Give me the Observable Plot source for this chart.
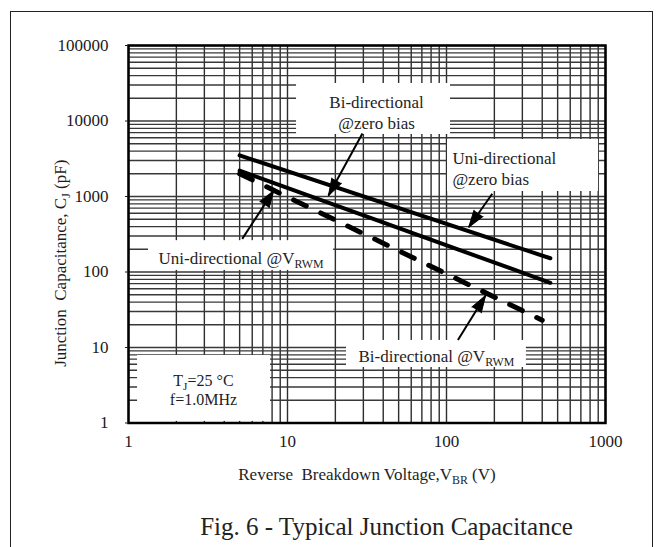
<!DOCTYPE html>
<html><head><meta charset="utf-8">
<script src="https://cdn.jsdelivr.net/npm/d3@7"></script>
<script src="https://cdn.jsdelivr.net/npm/@observablehq/plot@0.6"></script>
<style>
html,body{margin:0;padding:0;background:#fff;width:659px;height:547px;overflow:hidden;}
#page{position:relative;width:659px;height:547px;overflow:hidden;}
#border{position:absolute;left:10px;top:11px;width:643px;height:600px;border:1.5px solid #222;box-sizing:border-box;}
#chart{position:absolute;left:0;top:0;}
#caption{position:absolute;left:0;width:773px;top:514px;text-align:center;font-family:"Liberation Serif",serif;font-size:25px;color:#222;line-height:1;}
</style></head>
<body><div id="page"><div id="border"></div><div id="chart"></div><div id="caption">Fig. 6 - Typical Junction Capacitance</div></div>
<script>
// ---- data ----
const uniZeroV = [5, 450];
const uniZeroC = [3500, 152];
const biZeroV = [5, 450];
const biZeroC = [2200, 72];
const vrwmV = [5, 400];
const vrwmC = [2000, 23];

const xTicks = [1, 10, 100, 1000];
const yTicks = [1, 10, 100, 1000, 10000, 100000];
const gridMultipliers = [1, 2, 3, 4, 5, 6, 7, 8, 9];
const xDecades = [1, 10, 100];
const yDecades = [1, 10, 100, 1000, 10000];

// annotation labels
const labelText = ["Bi-directional\n@zero bias", "Uni-directional\n@zero bias", "Uni-directional @V_{RWM}", "Bi-directional @V_{RWM}", "T_{J}=25 °C\nf=1.0MHz"];
const labelV = [36.3, 109, 1.544, 27.97, 2.96];
const labelC = [13150, 2385, 153, 7.64, 2.82];
const labelAnchor = ["middle", "start", "start", "start", "middle"];
const labelSize = [17, 17, 17, 17, 16];
const labelLH = [1.24, 1.24, 1, 1, 1.19];

// white label boxes
const boxV1 = [11.4, 101.5, 1.336, 23.5, 1.14];
const boxV2 = [106, 904, 19.5, 318, 7.82];
const boxC1 = [6630, 1165, 105, 5.43, 1.05];
const boxC2 = [31400, 5690, 260, 12.4, 7.84];

// arrows (tail -> tip)
const arrowTailV = [29.6, 194, 5.19, 118];
const arrowTailC = [6850, 1086, 275, 12.6];
const arrowTipV = [18.1, 138, 8.2, 176];
const arrowTipC = [1030, 392, 1200, 48.8];

const xTitle = "Reverse  Breakdown Voltage,V_{BR} (V)";
const yTitle = "Junction  Capacitance, C_{J} (pF)";

// ---- build ----
const W = 659, H = 490, mL = 128, mR = 54, mT = 45, mB = 67.5;
const xDomain = [1, 1000], yDomain = [1, 100000];
const xs = Plot.scale({x: {type: "log", domain: xDomain, range: [mL, W - mR]}});
const ys = Plot.scale({y: {type: "log", domain: yDomain, range: [H - mB, mT]}});

const gridX = xDecades.flatMap(d => gridMultipliers.map(k => k * d)).concat([1000]);
const gridY = yDecades.flatMap(d => gridMultipliers.map(k => k * d)).concat([100000]);

const toPts = (V, C) => V.map((v, i) => ({v, c: C[i]}));
const uniZero = toPts(uniZeroV, uniZeroC);
const biZero = toPts(biZeroV, biZeroC);
const vrwm = toPts(vrwmV, vrwmC);
const labels = labelText.map((t, i) => ({t, v: labelV[i], c: labelC[i]}));
const boxes = boxV1.map((v, i) => ({v1: v, v2: boxV2[i], c1: boxC1[i], c2: boxC2[i]}));
const arrows = arrowTailV.map((v, i) => ({tv: v, tc: arrowTailC[i], hv: arrowTipV[i], hc: arrowTipC[i]}));
const angle = d => {
  const dx = xs.apply(d.hv) - xs.apply(d.tv);
  const dy = ys.apply(d.hc) - ys.apply(d.tc);
  return Math.atan2(dx, -dy) * 180 / Math.PI;
};

const labelMarks = labels.map((d, i) => Plot.text([d], {
  x: "v", y: "c", text: "t", textAnchor: labelAnchor[i], lineAnchor: "middle",
  fontSize: labelSize[i], lineHeight: labelLH[i], fill: "#1e1e1e"
}));

const plot = Plot.plot({
  width: W, height: H,
  marginLeft: mL, marginRight: mR, marginTop: mT, marginBottom: mB,
  x: {type: "log", domain: xDomain, label: null},
  y: {type: "log", domain: yDomain, label: null},
  style: {fontFamily: "'Liberation Serif', serif", fontSize: "17px", color: "#1a1a1a", background: "transparent"},
  marks: [
    Plot.ruleX(gridX, {stroke: "#2e2e2e", strokeWidth: 1.4}),
    Plot.ruleY(gridY, {stroke: "#383838", strokeWidth: 1.3}),
    Plot.rect(boxes, {x1: "v1", x2: "v2", y1: "c1", y2: "c2", fill: "white"}),
    Plot.line(uniZero, {x: "v", y: "c", stroke: "black", strokeWidth: 4, strokeLinecap: "round"}),
    Plot.line(biZero, {x: "v", y: "c", stroke: "black", strokeWidth: 4, strokeLinecap: "round"}),
    Plot.line(vrwm, {x: "v", y: "c", stroke: "black", strokeWidth: 5, strokeLinecap: "round", strokeDasharray: "14,16"}),
    Plot.link(arrows, {x1: "tv", y1: "tc", x2: "hv", y2: "hc", stroke: "black", strokeWidth: 2}),
    Plot.vector(arrows, {x: "hv", y: "hc", rotate: angle, length: 17, r: 5.5, shape: "spike", anchor: "end", fill: "black", stroke: "black", strokeWidth: 1}),
    ...labelMarks,
    Plot.frame({stroke: "black", strokeWidth: 2.5}),
    Plot.axisY({ticks: yTicks, tickFormat: d => String(d), tickSize: 3, tickPadding: 17, label: null, fontSize: 17}),
    Plot.axisX({ticks: xTicks, tickFormat: d => String(d), tickSize: 0, tickPadding: 12, label: null, fontSize: 17}),
    Plot.text([xTitle], {frameAnchor: "bottom", textAnchor: "middle", lineAnchor: "middle", dy: 51.5, fontSize: 17, fill: "#1e1e1e"}),
    Plot.text([yTitle], {frameAnchor: "left", textAnchor: "middle", lineAnchor: "middle", rotate: -90, dx: -68, dy: 29, fontSize: 17, fill: "#1e1e1e"})
  ]
});

// subscripts: turn "_{...}" into lowered, smaller tspans
function applySubs(root) {
  root.querySelectorAll("text, tspan").forEach(el => {
    if (el.children.length) return;
    const s = el.textContent;
    if (!s.includes("_{")) return;
    el.textContent = "";
    const parts = s.split(/_\{([^}]*)\}/);
    let shifted = false;
    parts.forEach((p, i) => {
      if (p === "") return;
      const t = document.createElementNS("http://www.w3.org/2000/svg", "tspan");
      t.textContent = p;
      if (i % 2 === 1) {
        t.setAttribute("font-size", "0.7em");
        t.setAttribute("dy", "4");
        shifted = true;
      } else if (shifted) {
        t.setAttribute("dy", "-4");
        shifted = false;
      }
      el.appendChild(t);
    });
  });
}
applySubs(plot);
d3.select(plot).selectAll("text").style("white-space", "pre");
document.getElementById("chart").appendChild(plot);
</script>
</body></html>
